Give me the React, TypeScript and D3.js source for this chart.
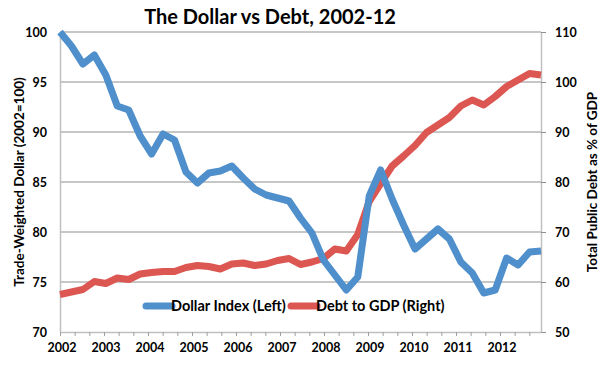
import React, { useEffect, useRef } from 'react';
import * as d3 from 'd3';

// quarterly readings, 2002 onwards
const dollarIndex = [100, 98.6, 96.8, 97.7, 95.7, 92.6, 92.2, 89.6, 87.8, 89.8, 89.2, 86.0, 84.9, 85.9, 86.1, 86.6, 85.4, 84.3, 83.7, 83.4, 83.1, 81.4, 79.9, 77.2, 75.7, 74.2, 75.5, 83.6, 86.2, 83.3, 80.7, 78.3, 79.3, 80.3, 79.3, 77.0, 75.9, 73.9, 74.2, 77.4, 76.7, 78.0, 78.1];
const debtToGdp = [57.5, 58.0, 58.5, 60.1, 59.7, 60.8, 60.5, 61.6, 61.9, 62.1, 62.1, 62.9, 63.3, 63.1, 62.6, 63.6, 63.8, 63.3, 63.6, 64.3, 64.7, 63.5, 64.0, 64.7, 66.6, 66.2, 69.5, 76.1, 79.7, 83.2, 85.2, 87.3, 89.9, 91.4, 92.9, 95.2, 96.4, 95.4, 97.1, 99.1, 100.4, 101.7, 101.4];
const years = [2002, 2003, 2004, 2005, 2006, 2007, 2008, 2009, 2010, 2011, 2012];
const leftTicks = [70, 75, 80, 85, 90, 95, 100];
const rightTicks = [50, 60, 70, 80, 90, 100, 110];
const seriesNames = ['Dollar Index (Left)', 'Debt to GDP (Right)'];

const BLUE = '#4f8fcc';
const RED = '#dc5652';
const FONT = 'Lato, "Open Sans", sans-serif';

export default function App() {
  const ref = useRef<SVGSVGElement>(null);

  useEffect(() => {
    const svg = d3.select(ref.current);
    svg.selectAll('*').remove();

    const left = 60, right = 541, top = 32, bottom = 332;

    const x = d3.scaleLinear().domain([0, dollarIndex.length - 1]).range([left, right]);
    const xYear = d3.scaleLinear().domain([2002, 2002 + (right - left) / 44]).range([left, right]);
    const yL = d3.scaleLinear().domain([70, 100]).range([bottom, top]);
    const yR = d3.scaleLinear().domain([50, 110]).range([bottom, top]);

    // gridlines
    svg.append('g')
      .selectAll('line')
      .data(leftTicks.slice(1))
      .join('line')
      .attr('x1', left).attr('x2', right)
      .attr('y1', d => yL(d)).attr('y2', d => yL(d))
      .attr('stroke', '#8e8e8e').attr('stroke-width', 1);

    // left axis
    const gl = svg.append('g').attr('transform', `translate(${left},0)`)
      .call(d3.axisLeft(yL).tickValues(leftTicks).tickSize(0).tickPadding(13));
    gl.select('.domain').attr('stroke', '#c0c0c0').attr('stroke-width', 1.5);

    // right axis
    const gr = svg.append('g').attr('transform', `translate(${right},0)`)
      .call(d3.axisRight(yR).tickValues(rightTicks).tickSize(5).tickSizeOuter(0).tickPadding(9));
    gr.select('.domain').attr('stroke', '#c0c0c0').attr('stroke-width', 1.5);
    gr.selectAll('.tick line').attr('stroke', '#8e8e8e');

    // bottom axis, ticks every four months
    const gb = svg.append('g').attr('transform', `translate(0,${bottom})`)
      .call(d3.axisBottom(xYear).tickValues(d3.range(0, 33).map(k => 2002 + k / 3)).tickSize(4).tickSizeOuter(0).tickFormat(() => ''));
    gb.select('.domain').attr('stroke', '#c0c0c0').attr('stroke-width', 1.5);
    gb.selectAll('.tick line').attr('stroke', '#a0a0a0');

    svg.append('g')
      .selectAll('text')
      .data(years)
      .join('text')
      .attr('x', d => xYear(d) + 2)
      .attr('y', 352)
      .attr('text-anchor', 'middle')
      .text(d => d);

    svg.selectAll('.tick text').attr('fill', '#000');
    svg.selectAll('text')
      .attr('font-family', FONT).attr('font-weight', 'bold').attr('font-size', 12.5);

    // lines
    const lineL = d3.line<number>().x((d, i) => x(i)).y(d => yL(d));
    const lineR = d3.line<number>().x((d, i) => x(i)).y(d => yR(d));

    svg.append('path').datum(debtToGdp)
      .attr('d', lineR).attr('fill', 'none')
      .attr('stroke', RED).attr('stroke-width', 7).attr('stroke-linejoin', 'round');
    svg.append('path').datum(dollarIndex)
      .attr('d', lineL).attr('fill', 'none')
      .attr('stroke', BLUE).attr('stroke-width', 7).attr('stroke-linejoin', 'round');

    // legend
    const legend = [
      { name: seriesNames[0], color: BLUE, x0: 146 },
      { name: seriesNames[1], color: RED, x0: 291 },
    ];
    const lg = svg.append('g').selectAll('g').data(legend).join('g')
      .attr('transform', d => `translate(${d.x0},306)`);
    lg.append('line')
      .attr('x1', 0).attr('x2', 26).attr('y1', 0).attr('y2', 0)
      .attr('stroke', d => d.color).attr('stroke-width', 7).attr('stroke-linecap', 'round');
    lg.append('text')
      .attr('x', 25).attr('y', 5)
      .attr('font-family', FONT).attr('font-size', 14.5).attr('font-weight', 'bold')
      .text(d => d.name);

    // titles
    svg.append('text')
      .attr('x', 270).attr('y', 24)
      .attr('text-anchor', 'middle')
      .attr('font-family', FONT).attr('font-weight', 'bold').attr('font-size', 20)
      .text('The Dollar vs Debt, 2002-12');

    svg.append('text')
      .attr('transform', 'translate(24,182) rotate(-90)')
      .attr('text-anchor', 'middle')
      .attr('font-family', FONT).attr('font-weight', 'bold').attr('font-size', 13.5)
      .text('Trade-Weighted Dollar (2002=100)');

    svg.append('text')
      .attr('transform', 'translate(597,182) rotate(-90)')
      .attr('text-anchor', 'middle')
      .attr('font-family', FONT).attr('font-weight', 'bold').attr('font-size', 13.5)
      .text('Total Public Debt as % of GDP');
  }, []);

  return (
    <svg ref={ref} width={606} height={366}
      style={{ position: 'absolute', left: 0, top: 0, background: '#fff' }} />
  );
}
